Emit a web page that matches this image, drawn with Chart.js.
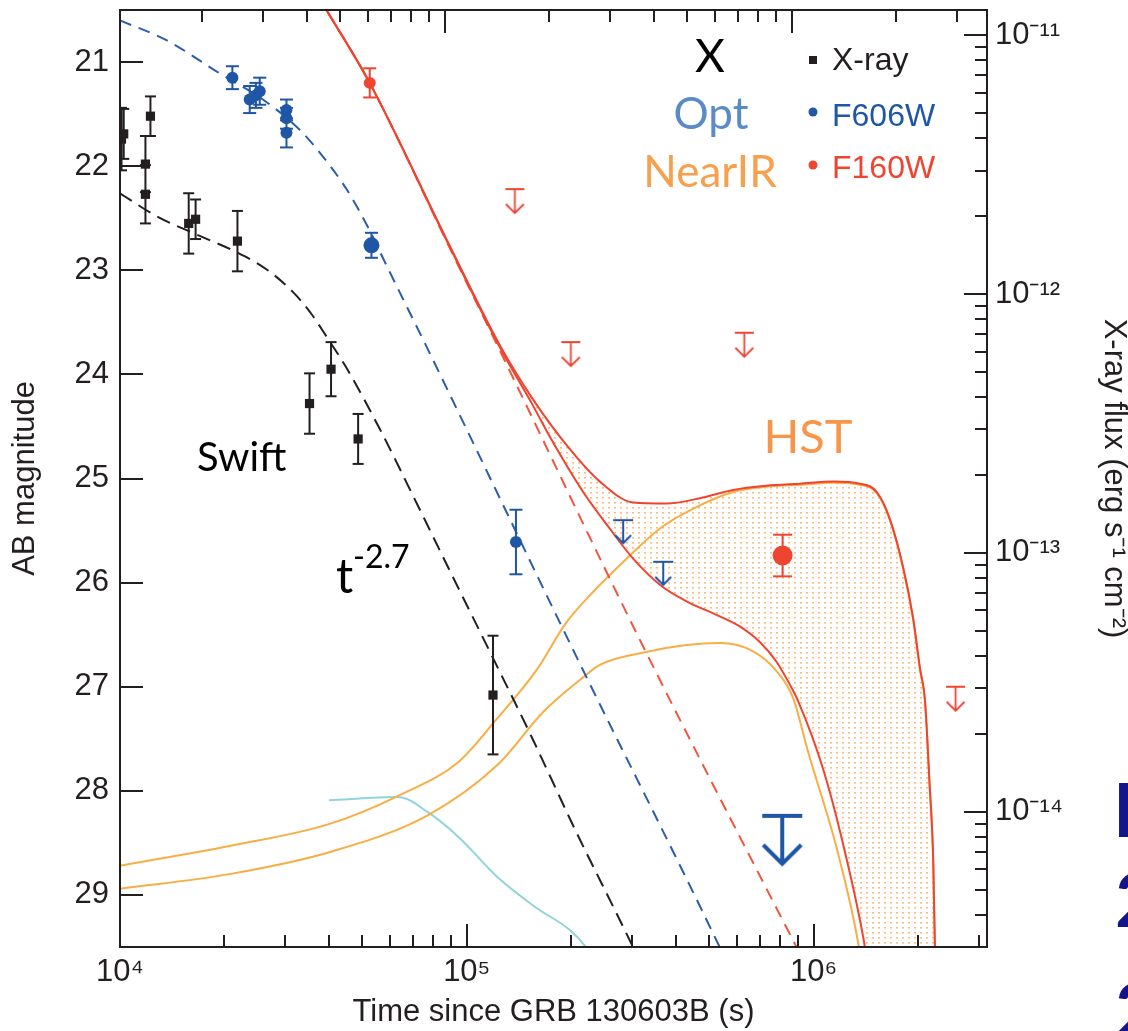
<!DOCTYPE html>
<html>
<head>
<meta charset="utf-8">
<script src="https://cdn.jsdelivr.net/npm/chart.js@4.4.1/dist/chart.umd.min.js"></script>
<style>
  html, body { margin: 0; padding: 0; background: #fff; }
  #wrap { width: 1128px; height: 1031px; }
</style>
</head>
<body>
<div id="wrap"><canvas id="lc" width="1128" height="1031"></canvas></div>
<script>
// X-ray (Swift), converted to AB mag
var xrayT   = [1.01e4, 1.025e4, 1.184e4, 1.184e4, 1.224e4, 1.578e4, 1.652e4, 2.181e4, 3.52e4, 4.06e4, 4.86e4, 1.19e5];
var xrayM   = [21.74, 21.69, 21.98, 22.27, 21.52, 22.55, 22.51, 22.72, 24.28, 23.95, 24.62, 27.08];
var xrayErr = [0.30, 0.24, 0.27, 0.28, 0.19, 0.29, 0.19, 0.29, 0.29, 0.26, 0.24, 0.57];

// optical F606W detections and limits
var f606wT   = [2.109e4, 2.366e4, 2.466e4, 2.529e4, 3.02e4, 3.02e4, 3.02e4, 5.31e4, 1.386e5];
var f606wM   = [21.15, 21.36, 21.32, 21.28, 21.46, 21.54, 21.68, 22.76, 25.61];
var f606wErr = [0.11, 0.13, 0.12, 0.13, 0.10, 0.10, 0.14, 0.12, 0.31];
var f606wLimT = [2.824e5, 3.684e5];
var f606wLimM = [25.40, 25.80];
var f606wDeepLimT = [8.12e5];
var f606wDeepLimM = [28.24];

// near-IR F160W detections and limits
var f160wT   = [5.25e4, 8.14e5];
var f160wM   = [21.20, 25.74];
var f160wErr = [0.14, 0.20];
var f160wLimT = [1.376e5, 1.995e5, 6.31e5, 2.567e6];
var f160wLimM = [22.22, 23.69, 23.60, 27.00];

// model curves
var xrayModelT = [1.0e4, 1.274e4, 1.698e4, 2.118e4, 2.642e4, 3.155e4, 3.565e4, 3.981e4, 4.467e4, 5.623e4, 7.079e4, 8.913e4, 1.164e5, 1.542e5, 2.037e5, 3.013e5, 3.162e5];
var xrayModelM = [22.26, 22.48, 22.67, 22.81, 22.99, 23.21, 23.42, 23.66, 23.92, 24.53, 25.20, 25.88, 26.66, 27.49, 28.35, 29.50, 29.65];

var optModelT = [1.0e4, 1.361e4, 1.941e4, 2.582e4, 3.296e4, 3.767e4, 4.498e4, 5.140e4, 5.861e4, 6.855e4, 7.568e4, 2.084e5, 5.358e5, 5.623e5];
var optModelM = [20.60, 20.79, 21.11, 21.36, 21.65, 21.87, 22.22, 22.56, 22.95, 23.41, 23.70, 26.73, 29.50, 29.65];

var nirAfterglowT = [3.715e4, 3.938e4, 5.248e4, 8.913e4, 1.245e5, 3.155e5, 8.831e5, 9.12e5];
var nirAfterglowM = [20.36, 20.50, 21.20, 22.78, 23.77, 26.55, 29.47, 29.56];

var nirTotalHiT = [3.715e4, 3.938e4, 5.248e4, 8.913e4, 1.245e5, 1.552e5, 1.940e5, 2.419e5, 3.018e5, 3.767e5, 4.699e5, 5.861e5, 7.311e5, 9.120e5, 1.140e6, 1.360e6, 1.521e6, 1.660e6, 1.814e6, 1.936e6, 2.026e6, 2.096e6, 2.158e6, 2.213e6, 2.238e6, 2.253e6];
var nirTotalHiM = [20.36, 20.50, 21.20, 22.76, 23.72, 24.24, 24.68, 25.03, 25.23, 25.24, 25.19, 25.11, 25.07, 25.05, 25.03, 25.05, 25.13, 25.39, 25.86, 26.34, 26.82, 27.14, 27.91, 28.67, 29.50, 29.63];

var nirTotalLoT = [3.715e4, 3.938e4, 5.248e4, 8.913e4, 1.245e5, 1.552e5, 1.736e5, 2.165e5, 2.582e5, 3.018e5, 3.603e5, 4.302e5, 5.248e5, 6.124e5, 6.998e5, 7.816e5, 8.543e5, 9.029e5, 1.063e6, 1.230e6, 1.406e6, 1.424e6];
var nirTotalLoM = [20.36, 20.50, 21.20, 22.77, 23.74, 24.30, 24.60, 25.13, 25.48, 25.77, 26.02, 26.18, 26.31, 26.42, 26.57, 26.76, 26.98, 27.14, 27.78, 28.58, 29.50, 29.63];

var kilonovaHiT = [1.0e4, 2.068e4, 4.0e4, 6.324e4, 9.484e4, 1.227e5, 1.581e5, 1.940e5, 2.312e5, 2.888e5, 3.606e5, 4.498e5, 5.861e5, 7.311e5, 9.120e5, 1.140e6, 1.360e6, 1.521e6, 1.660e6, 1.814e6, 1.936e6, 2.026e6, 2.096e6, 2.158e6, 2.213e6, 2.238e6, 2.253e6];
var kilonovaHiM = [28.72, 28.53, 28.32, 28.05, 27.72, 27.30, 26.85, 26.38, 26.09, 25.77, 25.48, 25.29, 25.13, 25.08, 25.06, 25.04, 25.06, 25.14, 25.40, 25.87, 26.35, 26.83, 27.15, 27.92, 28.68, 29.51, 29.64];

var kilonovaLoT = [1.0e4, 2.068e4, 4.107e4, 7.762e4, 1.227e5, 1.663e5, 2.147e5, 2.419e5, 3.373e5, 4.302e5, 5.366e5, 6.697e5, 7.816e5, 8.730e5, 9.630e5, 1.172e6, 1.351e6, 1.368e6];
var kilonovaLoM = [28.94, 28.80, 28.58, 28.23, 27.75, 27.24, 26.92, 26.79, 26.66, 26.60, 26.58, 26.66, 26.85, 27.11, 27.62, 28.58, 29.50, 29.63];

var cyanT = [4.004e4, 6.33e4, 7.76e4, 9.51e4, 1.227e5, 1.581e5, 1.986e5, 2.203e5, 2.28e5];
var cyanM = [28.09, 28.06, 28.21, 28.45, 28.83, 29.12, 29.34, 29.50, 29.58];

// axis ticks
var timeTicks = [1e4, 1e5, 1e6];
var timeLabels = ['10\u2074', '10\u2075', '10\u2076'];
var magTicks = [21, 22, 23, 24, 25, 26, 27, 28, 29];
var fluxTicks = [1e-11, 1e-12, 1e-13, 1e-14];
var fluxLabels = ['10\u207b\u00b9\u00b9', '10\u207b\u00b9\u00b2', '10\u207b\u00b9\u00b3', '10\u207b\u00b9\u2074'];

(function() {
  var ink = '#231f20';
  var blue = '#1f56a5';
  var red = '#ee4430';
  var orange = '#f9ad45';
  var sans = "'Liberation Sans', Arial, Helvetica, sans-serif";
  var gill = "Lato, 'Open Sans', sans-serif";

  function pts(t, m) {
    return t.map(function(v, i) { return {x: v, y: m[i]}; });
  }

  // vertical bar per point, broken by a null so the line does not join them
  function errorBars(t, m, e) {
    var out = [];
    for (var i = 0; i < t.length; i++) {
      out.push({x: t[i], y: m[i] - e[i]}, {x: t[i], y: m[i] + e[i]}, {x: t[i], y: null});
    }
    return out;
  }

  function capSizes(list) {
    var out = [];
    list.forEach(function(r) { out.push(r, r, 0); });
    return out;
  }

  // upper-limit glyph: bar at the centre, arrow pointing down
  function limitSymbol(color, barW, len, head, lw) {
    var c = document.createElement('canvas');
    var w = Math.ceil(barW + lw * 2), h = Math.ceil((len + lw * 2) * 2);
    c.width = w; c.height = h;
    var g = c.getContext('2d');
    var cx = w / 2, cy = h / 2;
    g.strokeStyle = color;
    g.lineWidth = lw;
    g.beginPath();
    g.moveTo(cx - barW / 2, cy); g.lineTo(cx + barW / 2, cy);
    g.moveTo(cx, cy); g.lineTo(cx, cy + len);
    g.moveTo(cx - head, cy + len - head); g.lineTo(cx, cy + len); g.lineTo(cx + head, cy + len - head);
    g.stroke();
    return c;
  }

  function dotPattern(ctx) {
    var c = document.createElement('canvas');
    c.width = 6; c.height = 5;
    var g = c.getContext('2d');
    g.fillStyle = 'rgba(249,172,92,0.8)';
    g.fillRect(2, 2, 2, 1.6);
    return ctx.createPattern(c, 'repeat');
  }

  function curve(t, m, color, width, dash) {
    return {
      data: pts(t, m), showLine: true, borderColor: color, borderWidth: width,
      borderDash: dash || [], pointRadius: 0, fill: false,
      cubicInterpolationMode: 'monotone', clip: 0
    };
  }

  function logTickValues(min, max) {
    var out = [];
    for (var n = Math.floor(Math.log10(min)); n <= Math.ceil(Math.log10(max)); n++) {
      for (var k = 1; k < 10; k++) {
        var v = k * Math.pow(10, n);
        if (v >= min * 0.999 && v <= max * 1.001) out.push({v: v, major: k === 1});
      }
    }
    return out;
  }

  var frameTicks = {
    id: 'frameTicks',
    afterDatasetsDraw: function(chart) {
      var ctx = chart.ctx, a = chart.chartArea, s = chart.scales;
      ctx.save();
      ctx.strokeStyle = ink;
      ctx.lineWidth = 2;
      ctx.beginPath();
      logTickValues(s.x.min, s.x.max).forEach(function(t) {
        var px = Math.round(s.x.getPixelForValue(t.v));
        ctx.moveTo(px, a.bottom); ctx.lineTo(px, a.bottom - (t.major ? 23 : 12));
      });
      logTickValues(s.x2.min, s.x2.max).forEach(function(t) {
        var px = Math.round(s.x2.getPixelForValue(t.v));
        ctx.moveTo(px, a.top); ctx.lineTo(px, a.top + (t.major ? 23 : 12));
      });
      magTicks.forEach(function(v) {
        var py = Math.round(s.y.getPixelForValue(v));
        ctx.moveTo(a.left, py); ctx.lineTo(a.left + 23, py);
      });
      logTickValues(s.y2.min, s.y2.max).forEach(function(t) {
        var py = Math.round(s.y2.getPixelForValue(t.v));
        ctx.moveTo(a.right, py); ctx.lineTo(a.right - (t.major ? 23 : 12), py);
      });
      ctx.stroke();
      ctx.strokeRect(a.left, a.top, a.right - a.left, a.bottom - a.top);
      ctx.restore();
    }
  };

  var labels = {
    id: 'labels',
    afterDraw: function(chart) {
      var ctx = chart.ctx;
      function txt(s, x, y, font, color, align) {
        ctx.font = font; ctx.fillStyle = color; ctx.textAlign = align || 'left';
        ctx.fillText(s, x, y);
      }
      ctx.save();
      ctx.textBaseline = 'alphabetic';
      txt('X', 710, 72, '46px ' + gill, '#000', 'center');
      txt('Opt', 711, 129, '44px ' + gill, '#5a8bc7', 'center');
      txt('NearIR', 710, 187, '44px ' + gill, '#f7a04d', 'center');
      txt('HST', 808, 453, '47px ' + gill, '#f7964a', 'center');
      txt('Swift', 197, 471, '40px ' + gill, '#000');
      txt('t', 336, 593, '48px ' + gill, '#000');
      txt('-2.7', 353, 568, '32px ' + gill, '#000');

      // legend
      ctx.fillStyle = ink;
      ctx.fillRect(809, 56, 8, 8);
      ctx.fillStyle = blue;
      ctx.beginPath(); ctx.arc(813, 112, 4.5, 0, Math.PI * 2); ctx.fill();
      ctx.fillStyle = red;
      ctx.beginPath(); ctx.arc(813, 165, 4.5, 0, Math.PI * 2); ctx.fill();
      txt('X-ray', 832, 70, '32px ' + sans, ink);
      txt('F606W', 832, 126, '32px ' + sans, blue);
      txt('F160W', 832, 178, '32px ' + sans, red);

      // cropped slide text at the right edge
      txt('I', 1113, 837, 'bold 75px ' + gill, '#14148c');
      txt('2', 1115, 927, 'bold 75px ' + gill, '#14148c');
      txt('2', 1115, 1037, 'bold 75px ' + gill, '#14148c');
      ctx.restore();
    }
  };

  function renderChart() {
    var el = document.getElementById('lc');
    var ctx = el.getContext('2d');
    var tickFont = {family: sans, size: 31};
    var titleFont = {family: sans, size: 31, lineHeight: 1};

    var redLim = limitSymbol(red, 19, 24, 9, 1.8);
    var blueLim = limitSymbol(blue, 20, 23, 8, 2);
    var blueDeepLim = limitSymbol(blue, 40, 48, 19, 4);

    var datasets = [
      { data: pts(f160wT, f160wM), pointStyle: 'circle', pointRadius: [6, 10], pointBackgroundColor: red, pointBorderWidth: 0 },
      { data: pts(f606wT, f606wM), pointStyle: 'circle', pointRadius: [6, 6, 6, 6, 6, 6, 6, 8, 6], pointBackgroundColor: blue, pointBorderWidth: 0 },
      { data: pts(xrayT, xrayM), pointStyle: 'rect', pointRadius: 6.5, pointBackgroundColor: ink, pointBorderWidth: 0 },
      { data: errorBars(f160wT, f160wM, f160wErr), showLine: true, spanGaps: false, borderColor: red, borderWidth: 2,
        pointStyle: 'line', pointRadius: capSizes([6.5, 9.5]), pointBorderColor: red, pointBorderWidth: 2, clip: 0 },
      { data: errorBars(f606wT, f606wM, f606wErr), showLine: true, spanGaps: false, borderColor: blue, borderWidth: 2,
        pointStyle: 'line', pointRadius: 6.5, pointBorderColor: blue, pointBorderWidth: 2, clip: 0 },
      { data: errorBars(xrayT, xrayM, xrayErr), showLine: true, spanGaps: false, borderColor: ink, borderWidth: 2,
        pointStyle: 'line', pointRadius: 5.5, pointBorderColor: ink, pointBorderWidth: 2, clip: 0 },
      { data: pts(f160wLimT, f160wLimM), pointStyle: redLim, pointRadius: 5 },
      { data: pts(f606wLimT, f606wLimM), pointStyle: blueLim, pointRadius: 5 },
      { data: pts(f606wDeepLimT, f606wDeepLimM), pointStyle: blueDeepLim, pointRadius: 5 },
      // lower envelope: white fill hides the dots below it
      Object.assign(curve(nirTotalLoT, nirTotalLoM, red, 2), { fill: {value: 29.5}, backgroundColor: '#ffffff' }),
      Object.assign(curve(nirTotalHiT, nirTotalHiM, red, 2), { fill: {value: 29.5}, backgroundColor: dotPattern(ctx) }),
      curve(nirAfterglowT, nirAfterglowM, '#ef5640', 2, [12, 8]),
      curve(optModelT, optModelM, '#2c5ea8', 2, [12, 8]),
      curve(xrayModelT, xrayModelM, ink, 2, [14, 8]),
      curve(kilonovaHiT, kilonovaHiM, orange, 2),
      curve(kilonovaLoT, kilonovaLoM, orange, 2),
      curve(cyanT, cyanM, '#8fd5db', 2)
    ];

    new Chart(el, {
      type: 'scatter',
      data: { datasets: datasets },
      options: {
        responsive: false,
        animation: false,
        events: [],
        layout: { padding: { top: 7, left: 0, right: 0, bottom: 0 } },
        plugins: {
          legend: { display: false },
          tooltip: { enabled: false },
          filler: { drawTime: 'beforeDatasetsDraw' }
        },
        scales: {
          x: {
            type: 'logarithmic', position: 'bottom', min: 1e4, max: Math.pow(10, 6.5),
            grid: { display: false, drawTicks: false }, border: { display: false },
            afterBuildTicks: function(s) { s.ticks = timeTicks.map(function(v) { return {value: v}; }); },
            ticks: { color: ink, font: tickFont, padding: 7, maxRotation: 0, autoSkip: false,
                     callback: function(v, i) { return timeLabels[i]; } },
            title: { display: true, text: 'Time since GRB 130603B (s)', color: ink, font: titleFont, padding: { top: 0, bottom: 3.5 } },
            afterFit: function(s) { s.height = 84; s.paddingLeft = 0; s.paddingRight = 0; }
          },
          // top frame is offset from the bottom one in the original figure
          x2: {
            type: 'logarithmic', position: 'top', min: Math.pow(10, 4.0635), max: Math.pow(10, 6.5635),
            grid: { display: false, drawTicks: false }, border: { display: false },
            ticks: { display: false },
            afterFit: function(s) { s.height = 0; s.paddingLeft = 0; s.paddingRight = 0; }
          },
          y: {
            type: 'linear', position: 'left', reverse: true, min: 20.5, max: 29.5,
            grid: { display: false, drawTicks: false }, border: { display: false },
            afterBuildTicks: function(s) { s.ticks = magTicks.map(function(v) { return {value: v}; }); },
            ticks: { color: ink, font: tickFont, padding: 11, callback: function(v) { return String(v); } },
            title: { display: true, text: 'AB magnitude', color: ink, font: titleFont, padding: { top: 9.5, bottom: 0 } },
            afterFit: function(s) { s.width = 120; s.paddingTop = 0; s.paddingBottom = 0; }
          },
          y2: {
            type: 'logarithmic', position: 'right', min: Math.pow(10, -14.502), max: Math.pow(10, -10.902),
            grid: { display: false, drawTicks: false }, border: { display: false },
            afterBuildTicks: function(s) { s.ticks = fluxTicks.map(function(v) { return {value: v}; }); },
            ticks: { color: ink, font: tickFont, padding: 8, callback: function(v, i) { return fluxLabels[i]; } },
            title: { display: true, text: 'X-ray flux (erg s\u207b\u00b9 cm\u207b\u00b2)', color: ink,
                     font: { family: sans, size: 31, lineHeight: 0.8 }, padding: { top: 1.6, bottom: 0 } },
            afterFit: function(s) { s.width = 141; s.paddingTop = 0; s.paddingBottom = 0; }
          }
        }
      },
      plugins: [frameTicks, labels]
    });
  }

  if (document.readyState === 'loading') {
    document.addEventListener('DOMContentLoaded', renderChart);
  } else {
    renderChart();
  }
})();
</script>
</body>
</html>
